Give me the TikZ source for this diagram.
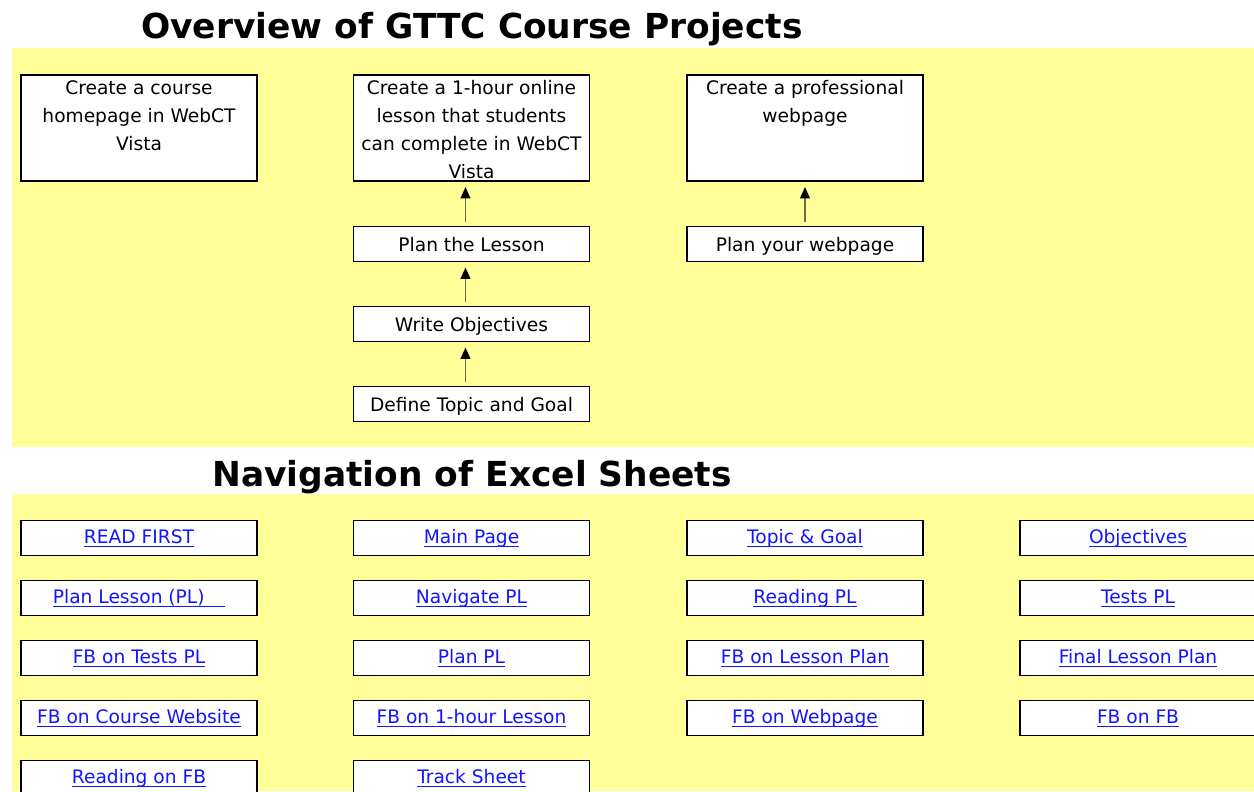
\documentclass[tikz,border=0pt]{standalone}
\usepackage{fontspec}
\setmainfont{DejaVu Sans}
\usetikzlibrary{arrows.meta}
\definecolor{cffff99}{RGB}{255,255,153}
\definecolor{c1414ff}{RGB}{20,20,255}
\definecolor{c6b6b4a}{RGB}{107,107,74}
% underline at a fixed depth below the baseline
\newcommand{\ulnk}[1]{\setbox0\hbox{#1}\rlap{\rule[-2.3pt]{\wd0}{0.65pt}}\box0}

\begin{document}
\begin{tikzpicture}[x=0.02cm,y=-0.02cm]

\clip (0,0) rectangle (1254,791);
\fill[white] (0,0) rectangle (1254,791);

% yellow backgrounds
\fill[cffff99] (12,48) rectangle (1254,447);
\fill[cffff99] (12,494) rectangle (1254,791);

\node[anchor=base,font=\fontsize{19.6}{19.6}\selectfont\bfseries] (title1) at (472,38) {Overview of GTTC Course Projects};
\node[anchor=base,font=\fontsize{19.6}{19.6}\selectfont\bfseries] (title2) at (472,486) {Navigation of Excel Sheets};

\begin{scope}[every node/.style={draw,line width=1.1pt,fill=white,minimum width=4.72cm,minimum height=2.12cm,inner sep=0pt,font=\fontsize{10.6}{15.9}\selectfont}]
\node (course) at (139,128) {\parbox[c][2.12cm][t]{4.66cm}{\centering\strut Create a course\\ homepage in WebCT\\ Vista}};
\node (lesson) at (471.5,128) {\parbox[c][2.12cm][t]{4.66cm}{\centering\strut Create a 1-hour online\\ lesson that students\\ can complete in WebCT\\ Vista}};
\node (webpage) at (805,128) {\parbox[c][2.12cm][t]{4.66cm}{\centering\strut Create a professional\\ webpage}};
\end{scope}

\begin{scope}[every node/.style={draw,line width=1.1pt,fill=white,minimum width=4.72cm,minimum height=0.7cm,inner sep=0pt,text height=9.5pt,text depth=1.5pt,font=\fontsize{10.6}{15.9}\selectfont}]
\node (plan) at (471.5,244) {Plan the Lesson};
\node (objs) at (471.5,324) {Write Objectives};
\node (topic) at (471.5,404) {Define Topic and Goal};
\node (planweb) at (805,244) {Plan your webpage};
\end{scope}

\begin{scope}[line width=1pt,color=c6b6b4a,shorten >=0.1cm,shorten <=0.08cm]
\draw[-{Triangle[width=5.5pt,length=6.5pt,color=black]}] ([xshift=-0.12cm]topic.north) to ([xshift=-0.12cm]objs.south);
\draw[-{Triangle[width=5.5pt,length=6.5pt,color=black]}] ([xshift=-0.12cm]objs.north) to ([xshift=-0.12cm]plan.south);
\draw[-{Triangle[width=5.5pt,length=6.5pt,color=black]}] ([xshift=-0.12cm]plan.north) to ([xshift=-0.12cm]lesson.south);
\draw[-{Triangle[width=5.5pt,length=6.5pt,color=black]}] (planweb.north) to (webpage.south);
\end{scope}

% links to the sheets
\begin{scope}[every node/.style={draw,line width=1.1pt,fill=white,minimum width=4.72cm,minimum height=0.7cm,inner sep=0pt,text height=8.6pt,text depth=2.5pt,text=c1414ff,font=\fontsize{10.6}{15.9}\selectfont}]
\node (readfirst) at (139,538) {\ulnk{READ FIRST}};
\node (mainpage) at (471.5,538) {\ulnk{Main Page}};
\node (topicgoal) at (805,538) {\ulnk{Topic \& Goal}};
\node (objectives) at (1138,538) {\ulnk{Objectives}};
\node (planlesson) at (139,598) {\ulnk{Plan Lesson (PL)\hspace{1.1em}}};
\node (navigatepl) at (471.5,598) {\ulnk{Navigate PL}};
\node (readingpl) at (805,598) {\ulnk{Reading PL}};
\node (testspl) at (1138,598) {\ulnk{Tests PL}};
\node (fbtests) at (139,658) {\ulnk{FB on Tests PL}};
\node (planpl) at (471.5,658) {\ulnk{Plan PL}};
\node (fblessonplan) at (805,658) {\ulnk{FB on Lesson Plan}};
\node (finalplan) at (1138,658) {\ulnk{Final Lesson Plan}};
\node (fbcourse) at (139,718) {\ulnk{FB on Course Website}};
\node (fbhour) at (471.5,718) {\ulnk{FB on 1-hour Lesson}};
\node (fbwebpage) at (805,718) {\ulnk{FB on Webpage}};
\node (fbfb) at (1138,718) {\ulnk{FB on FB}};
\node (readingfb) at (139,778) {\ulnk{Reading on FB}};
\node (tracksheet) at (471.5,778) {\ulnk{Track Sheet}};
\end{scope}

\end{tikzpicture}
\end{document}
